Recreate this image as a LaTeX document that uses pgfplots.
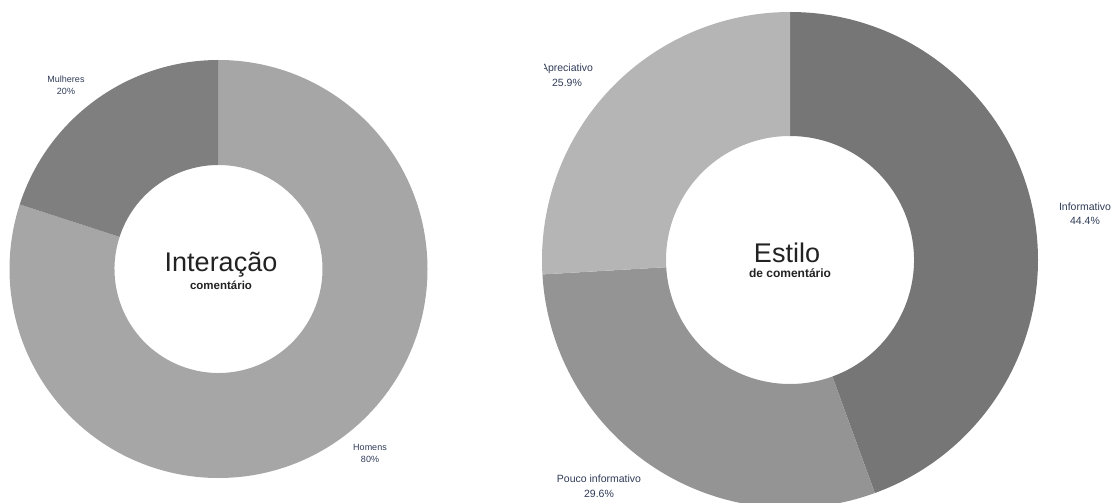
\documentclass[border=0pt]{standalone}
\usepackage{pgfplots}
\pgfplotsset{compat=1.18}
\usepackage{pgfplotstable}
\usepackage{fontspec}
\setmainfont{Liberation Sans}

\definecolor{homens}{HTML}{A6A6A6}
\definecolor{mulheres}{HTML}{7F7F7F}
\definecolor{informativo}{HTML}{767676}
\definecolor{pouco}{HTML}{949494}
\definecolor{apreciativo}{HTML}{B5B5B5}
\definecolor{labelcol}{HTML}{2F3B57}
\definecolor{titlecol}{HTML}{222222}

% share of each group (per cent), drawn clockwise from 12 o'clock
\pgfplotstableread[col sep=comma]{
value,color
80,homens
20,mulheres
}\interacao

\pgfplotstableread[col sep=comma]{
value,color
44.4,informativo
29.6,pouco
25.9,apreciativo
}\estilo

% #1 table, #2 #3 centre (axis units), #4 outer radius, #5 inner radius
\newcommand\drawdonut[5]{%
  \pgfplotstablegetrowsof{#1}%
  \pgfmathtruncatemacro\lastrow{\pgfplotsretval-1}%
  \def\total{0}%
  \pgfplotsforeachungrouped \k in {0,...,\lastrow}{%
    \pgfplotstablegetelem{\k}{value}\of{#1}%
    \pgfmathsetmacro\total{\total+\pgfplotsretval}}%
  \def\cum{0}%
  \pgfplotsforeachungrouped \k in {0,...,\lastrow}{%
    \pgfplotstablegetelem{\k}{value}\of{#1}\let\val\pgfplotsretval
    \pgfplotstablegetelem{\k}{color}\of{#1}\let\col\pgfplotsretval
    \pgfmathsetmacro\sa{90-(\cum/\total)*360}%
    \pgfmathsetmacro\cum{\cum+\val}%
    \pgfmathsetmacro\ea{90-(\cum/\total)*360}%
    \edef\slice{\noexpand\fill[\col]
      ([shift={(\sa:#4bp)}]axis cs:#2,#3)
      arc[start angle=\sa, end angle=\ea, radius=#4bp]
      -- ([shift={(\ea:#5bp)}]axis cs:#2,#3)
      arc[start angle=\ea, end angle=\sa, radius=#5bp] -- cycle;}%
    \slice}%
}

\begin{document}
\begin{tikzpicture}
\useasboundingbox (0,0) rectangle (1112bp,503bp);
\begin{axis}[
  at={(0,0)}, anchor=south west,
  x=1bp, y=1bp,
  xmin=0, xmax=1112, ymin=0, ymax=503,
  hide axis,
]
  \drawdonut{\interacao}{218.5}{234}{209}{104}
  \drawdonut{\estilo}{790}{243}{248}{124}
\end{axis}

% centre titles
\node[anchor=base, text=titlecol, font=\fontsize{27bp}{30bp}\selectfont] at (221bp,231bp) {Interação};
\node[anchor=base, text=titlecol, font=\fontsize{11.5bp}{14bp}\selectfont\bfseries] at (221bp,213bp) {comentário};
\node[anchor=base, text=titlecol, font=\fontsize{27bp}{30bp}\selectfont] at (787bp,240bp) {Estilo};
\node[anchor=base, text=titlecol, font=\fontsize{12bp}{14bp}\selectfont\bfseries] at (790bp,225bp) {de comentário};

% slice labels
\begin{scope}[every node/.style={text=labelcol, align=center}]
  \node[font=\fontsize{9bp}{12bp}\selectfont] at (66bp,418bp) {Mulheres\\20\%};
  \node[font=\fontsize{9bp}{12bp}\selectfont] at (370bp,50bp) {Homens\\80\%};
  \node[font=\fontsize{10.5bp}{14.5bp}\selectfont] at (1085bp,289.5bp) {Informativo\\44.4\%};
  \node[font=\fontsize{10.5bp}{14.5bp}\selectfont] at (599bp,17bp) {Pouco informativo\\29.6\%};
  \begin{scope}
    \clip (544bp,0) rectangle (1112bp,503bp);
    \node[font=\fontsize{10.5bp}{14.5bp}\selectfont] at (567bp,427.5bp) {Apreciativo\\25.9\%};
  \end{scope}
\end{scope}
\end{tikzpicture}
\end{document}
